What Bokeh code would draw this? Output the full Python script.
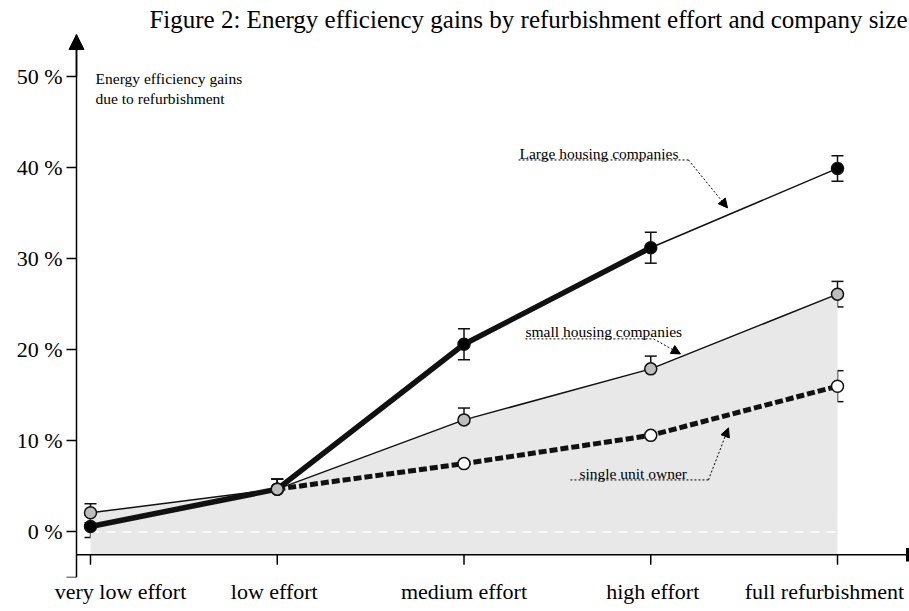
from bokeh.plotting import figure
from bokeh.models import (Range1d, FixedTicker, Arrow, NormalHead, Whisker, TeeHead,
                          ColumnDataSource, Label)
from bokeh.embed import file_html
from bokeh.resources import INLINE

# ---------------- data ----------------
categories = ["very low effort", "low effort", "medium effort", "high effort", "full refurbishment"]
large = [0.6, 4.7, 20.6, 31.2, 39.9]
large_lo = [-0.6, 3.5, 18.9, 29.5, 38.5]
large_hi = [1.8, 5.8, 22.3, 32.9, 41.3]
small = [2.1, 4.7, 12.3, 17.9, 26.1]
small_lo = [1.0, 3.5, 10.9, 16.3, 24.7]
small_hi = [3.1, 5.8, 13.6, 19.3, 27.5]
single_cats = ["low effort", "medium effort", "high effort", "full refurbishment"]
single = [4.7, 7.5, 10.6, 16.0]
single_lo = [3.5, 6.4, 9.2, 14.3]
single_hi = [5.8, 8.6, 11.9, 17.7]
y_ticks = [0, 10, 20, 30, 40, 50]
y_tick_labels = ["0 %", "10 %", "20 %", "30 %", "40 %", "50 %"]
title_text = "Figure 2: Energy efficiency gains by refurbishment effort and company size"
y_label = "Energy efficiency gains\ndue to refurbishment"
ann_large = "Large housing companies"
ann_small = "small housing companies"
ann_single = "single unit owner"

# ---------------- layout ----------------
SERIF = "Liberation Serif"
W, H = 909, 611
FRAME_LEFT, TOP, BOTTOM = 0, 34, 34
AXIS_PX, FIRST_PX, END_PX = 76, 90, 907
PPU = 186.75                      # pixels per category step
xs = list(range(len(categories)))
xs_single = [categories.index(c) for c in single_cats]
X0 = (FRAME_LEFT - FIRST_PX) / PPU
X1 = X0 + (W - FRAME_LEFT) / PPU
X_AX = (AXIS_PX - FIRST_PX) / PPU
X_END = (END_PX - FIRST_PX) / PPU
Y0, Y1 = -5.0, 54.6
AXIS_Y = -2.5

p = figure(width=W, height=H, x_range=Range1d(X0, X1), y_range=Range1d(Y0, Y1),
           output_backend="svg", toolbar_location=None,
           min_border_left=FRAME_LEFT, min_border_right=0, min_border_top=TOP, min_border_bottom=BOTTOM)
p.outline_line_color = None
p.xgrid.visible = False
p.ygrid.visible = False
p.background_fill_color = "white"

p.title.text = title_text
p.title.align = "right"
p.title.vertical_align = "top"
p.title.text_font = SERIF
p.title.text_font_size = "25px"
p.title.text_font_style = "normal"
p.title.text_color = "black"
p.title.text_line_height = 1.0
p.title.standoff = 0
p.title.offset = 2

# y axis (placed at a fixed data location so that its arrow head is not clipped)
yax = p.yaxis[0]
yax.fixed_location = X_AX
yax.ticker = FixedTicker(ticks=[Y0] + y_ticks)
overrides = {Y0: ""}
overrides.update({t: l for t, l in zip(y_ticks, y_tick_labels)})
yax.major_label_overrides = overrides
yax.minor_tick_line_color = None
yax.major_tick_in = 0
yax.major_tick_out = 10
yax.major_tick_line_width = 1.5
yax.axis_line_width = 1.5
yax.axis_line_color = "black"
yax.major_tick_line_color = "black"
yax.major_label_text_font = SERIF
yax.major_label_text_font_size = "22px"
yax.major_label_text_color = "black"
yax.major_label_standoff = 4

# x axis: labels only (label centres nudged so the outer ones stay inside the page)
label_shift_px = [30, -3, 0, 2, -13]
label_pos = [x + d / PPU for x, d in zip(xs, label_shift_px)]
xax = p.xaxis[0]
xax.ticker = FixedTicker(ticks=label_pos)
xax.major_label_overrides = {pos: c for pos, c in zip(label_pos, categories)}
xax.axis_line_color = None
xax.major_tick_line_color = None
xax.minor_tick_line_color = None
xax.major_tick_in = 0
xax.major_tick_out = 0
xax.major_label_text_font = SERIF
xax.major_label_text_font_size = "22px"
xax.major_label_text_color = "black"
xax.major_label_standoff = 1

# arrow head on y axis
p.add_layout(Arrow(x_start=X_AX, y_start=50, x_end=X_AX, y_end=Y1, line_width=1.5, line_color="black",
                   end=NormalHead(size=15, fill_color="black", line_color="black")))

# shaded area under small companies
p.varea(x=xs, y1=[AXIS_Y] * len(xs), y2=small, fill_color="#e8e8e8")
# white dashed zero line
p.segment(x0=[xs[0]], x1=[xs[-1]], y0=[0], y1=[0], line_color="white", line_width=1.5, line_dash="9 7")
# horizontal axis
p.segment(x0=[X_AX], x1=[X_END], y0=[AXIS_Y], y1=[AXIS_Y], line_color="black", line_width=1.5)
p.segment(x0=[X_END], x1=[X_END], y0=[AXIS_Y + 0.75], y1=[AXIS_Y - 0.75], line_color="black", line_width=3)
p.segment(x0=xs, x1=xs, y0=[AXIS_Y] * len(xs), y1=[AXIS_Y - 1.1] * len(xs), line_color="black", line_width=1.5)

# lines
p.line(xs, small, line_color="#111111", line_width=1.5)
p.line(xs[:4], large[:4], line_color="#111111", line_width=5.5)
p.line(xs[3:], large[3:], line_color="#111111", line_width=1.5)
p.line(xs_single, single, line_color="#111111", line_width=5, line_dash="8 3")

# error bars
def whisk(x, lo, hi):
    src = ColumnDataSource(dict(base=x, lower=lo, upper=hi))
    w = Whisker(base="base", lower="lower", upper="upper", source=src, line_color="#111111", line_width=1.5,
                upper_head=TeeHead(size=12, line_width=1.5, line_color="#111111"),
                lower_head=TeeHead(size=12, line_width=1.5, line_color="#111111"))
    p.add_layout(w)

whisk(xs_single, single_lo, single_hi)
whisk(xs, large_lo, large_hi)
whisk(xs, small_lo, small_hi)

# markers
p.scatter(xs_single, single, size=12, fill_color="white", line_color="#111111", line_width=1.5)
p.scatter(xs, large, size=12, fill_color="black", line_color="#111111", line_width=1.5)
p.scatter(xs, small, size=12, fill_color="#bdbdbd", line_color="#111111", line_width=1.5)

# y label
p.add_layout(Label(x=0.027, y=50.7, text=y_label, text_font=SERIF, text_font_size="15.5px",
                   text_baseline="top", text_align="left", text_color="black", text_line_height=1.2))

# annotations
def annotate(text, tx, ty, ux0, ux1, uy, ax, ay):
    p.add_layout(Label(x=tx, y=ty, text=text, text_font=SERIF, text_font_size="15.5px",
                       text_baseline="alphabetic", text_align="left", text_color="black"))
    p.segment(x0=[ux0], x1=[ux1], y0=[uy], y1=[uy], line_color="black", line_width=1, line_dash="2 2")
    p.add_layout(Arrow(x_start=ux1, y_start=uy, x_end=ax, y_end=ay, line_color="black", line_width=1,
                       line_dash="2 2",
                       end=NormalHead(size=9, fill_color="black", line_color="black", line_width=1)))

annotate(ann_large, 2.297, 41.49, 2.292, 3.202, 40.83, 3.411, 35.57)
annotate(ann_small, 2.329, 21.95, 2.329, 3.015, 21.19, 3.159, 19.54)
annotate(ann_single, 2.618, 6.37, 2.570, 3.309, 5.71, 3.416, 11.42)

open("out.html", "w").write(file_html(p, INLINE))
